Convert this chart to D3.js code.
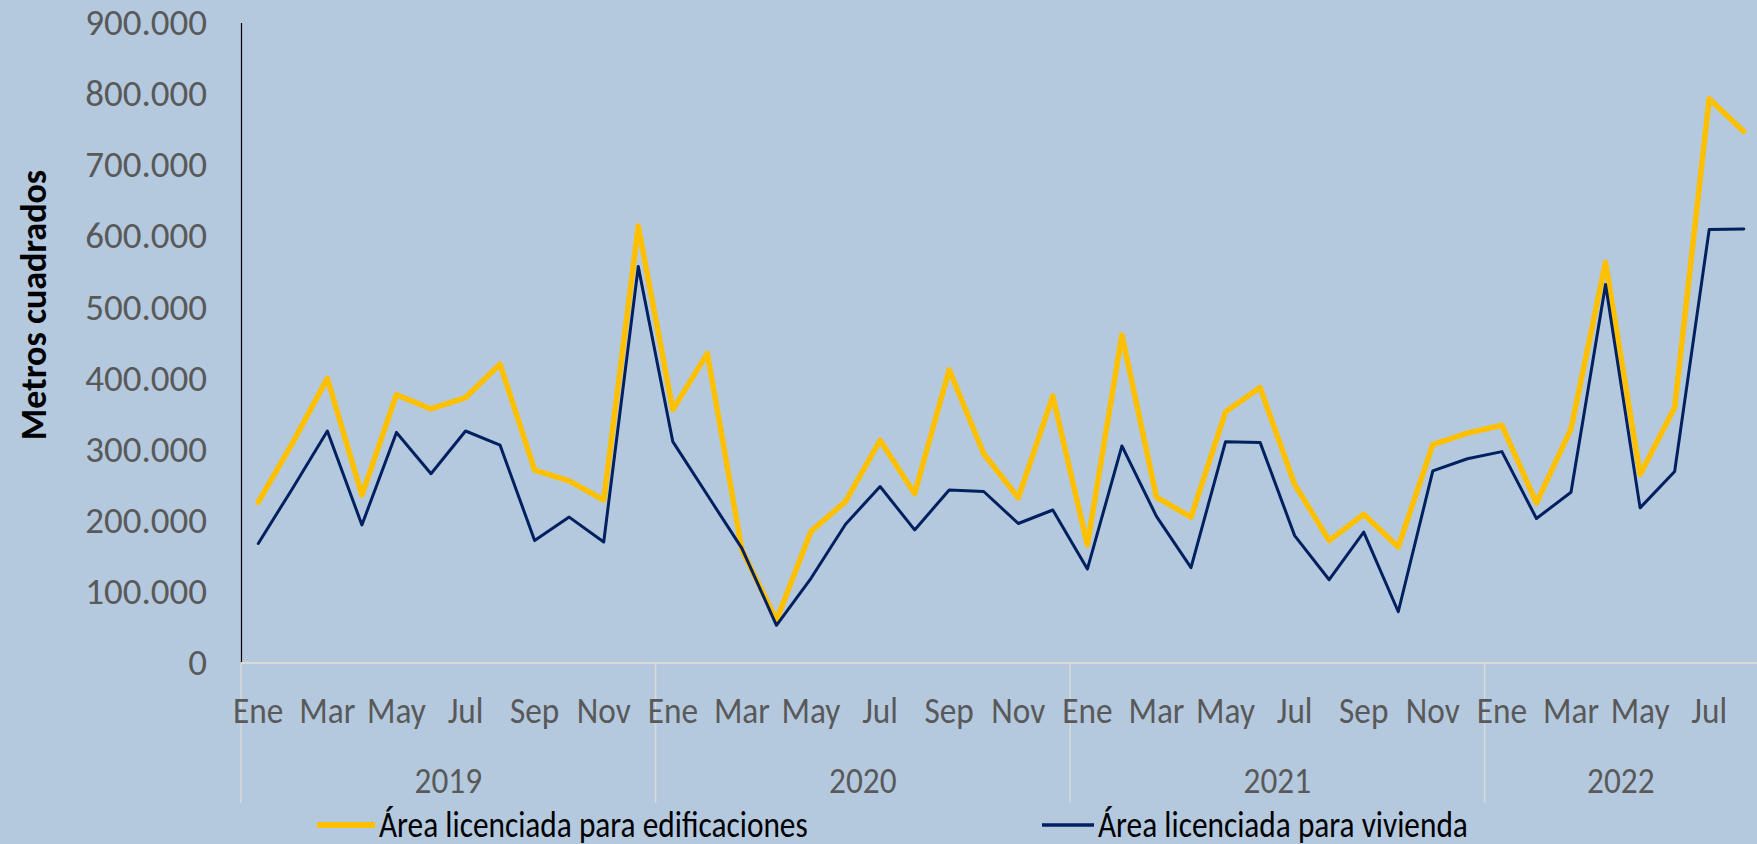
<!DOCTYPE html>
<html>
<head>
<meta charset="utf-8">
<script src="https://cdn.jsdelivr.net/npm/d3@7"></script>
<style>
  html, body { margin: 0; padding: 0; background: #b4c9de; }
  svg { display: block; }
</style>
</head>
<body>
<div id="container"></div>
<script>
var years = ['2019', '2020', '2021', '2022'];
var monthNames = ['Ene', 'Feb', 'Mar', 'Abr', 'May', 'Jun', 'Jul', 'Ago', 'Sep', 'Oct', 'Nov', 'Dic'];
var shownMonths = ['Ene', 'Mar', 'May', 'Jul', 'Sep', 'Nov'];
var monthsIn2022 = 8;

// metros cuadrados por mes, ene 2019 - ago 2022
var areaEdificaciones = [
    226000, 310000, 400000, 236000, 377000, 357000, 373000, 420000, 271000, 256000, 229000, 614000,
    356000, 435000, 159000, 60000, 185000, 227000, 313000, 238000, 412000, 294000, 232000, 375000,
    166000, 461000, 233000, 205000, 353000, 387000, 251000, 172000, 209000, 163000, 307000, 323000,
    334000, 225000, 329000, 563000, 265000, 359000, 793000, 747000
];
var areaVivienda = [
    168000, 246000, 326000, 194000, 324000, 266000, 326000, 306000, 172000, 205000, 170000, 557000,
    311000, 236000, 161000, 53000, 119000, 195000, 248000, 187000, 243000, 241000, 196000, 215000,
    132000, 305000, 206000, 134000, 311000, 310000, 179000, 117000, 184000, 72000, 270000, 287000,
    297000, 203000, 240000, 532000, 218000, 269000, 609000, 610000
];
var yTicks = [0, 100000, 200000, 300000, 400000, 500000, 600000, 700000, 800000, 900000];

var seriesInfo = [
    { name: 'Área licenciada para edificaciones', values: areaEdificaciones, color: '#ffc000', width: 5.5 },
    { name: 'Área licenciada para vivienda', values: areaVivienda, color: '#002060', width: 3 }
];

var svgWidth = 1757;
var svgHeight = 844;
var plotLeft = 241;
var plotRight = 1761;
var plotTop = 22.5;
var plotBottom = 663;
var squeeze = 0.9;
var labelFont = 'Calibri, Carlito, Liberation Sans, Arial, sans-serif';

var periods = [];
years.forEach(function (yr) {
    var n = yr == '2022' ? monthsIn2022 : 12;
    for (var m = 0; m < n; m++) {
        periods.push({ key: yr + '-' + m, year: yr, month: monthNames[m] });
    }
});

var x = d3.scaleBand().domain(periods.map(function (p) { return p.key; })).range([plotLeft, plotRight]);
var y = d3.scaleLinear().domain([0, 900000]).range([plotBottom, plotTop]);

var svg = d3.select('#container').append('svg')
    .attr('width', svgWidth)
    .attr('height', svgHeight);

svg.append('rect')
    .attr('width', svgWidth)
    .attr('height', svgHeight)
    .attr('fill', '#b4c9de');

// eje y
var yAxis = d3.axisLeft(y)
    .tickValues(yTicks)
    .tickSize(0)
    .tickPadding(34)
    .tickFormat(function (d) { return d == 0 ? '0' : d3.format(',')(d).replace(/,/g, '.'); });

var yG = svg.append('g')
    .attr('transform', 'translate(' + plotLeft + ',0)')
    .call(yAxis);
yG.select('.domain').attr('stroke', '#000').attr('stroke-width', 1.2);
yG.selectAll('text')
    .attr('fill', '#595959')
    .attr('font-family', labelFont)
    .attr('font-size', 37);

svg.append('text')
    .attr('transform', 'translate(34,305) rotate(-90)')
    .attr('text-anchor', 'middle')
    .attr('dominant-baseline', 'central')
    .attr('font-family', labelFont)
    .attr('font-weight', 'bold')
    .attr('font-size', 36)
    .attr('fill', '#000')
    .text('Metros cuadrados');

// linea base y separadores de año
svg.append('line')
    .attr('x1', plotLeft).attr('x2', svgWidth)
    .attr('y1', y(0)).attr('y2', y(0))
    .attr('stroke', '#d9d9d9')
    .attr('stroke-width', 2);

var yearGroups = years.map(function (yr) {
    return periods.filter(function (p) { return p.year == yr; });
});

svg.selectAll('.sep')
    .data(yearGroups)
    .enter().append('line')
    .attr('class', 'sep')
    .attr('x1', function (d) { return x(d[0].key); })
    .attr('x2', function (d) { return x(d[0].key); })
    .attr('y1', y(0))
    .attr('y2', 803)
    .attr('stroke', '#d9d9d9')
    .attr('stroke-width', 1.5);

// etiquetas de mes (texto algo comprimido)
svg.selectAll('.month')
    .data(periods.filter(function (p) { return shownMonths.indexOf(p.month) >= 0; }))
    .enter().append('text')
    .attr('class', 'month')
    .attr('transform', function (d) {
        return 'translate(' + (x(d.key) + x.bandwidth() / 2) + ',710) scale(' + squeeze + ',1)';
    })
    .attr('text-anchor', 'middle')
    .attr('dominant-baseline', 'central')
    .attr('font-family', labelFont)
    .attr('font-size', 37)
    .attr('fill', '#595959')
    .text(function (d) { return d.month; });

svg.selectAll('.year')
    .data(yearGroups)
    .enter().append('text')
    .attr('class', 'year')
    .attr('transform', function (d) {
        var last = d[d.length - 1];
        var cx = (x(d[0].key) + Math.min(x(last.key) + x.bandwidth(), svgWidth)) / 2;
        return 'translate(' + cx + ',780) scale(' + squeeze + ',1)';
    })
    .attr('text-anchor', 'middle')
    .attr('dominant-baseline', 'central')
    .attr('font-family', labelFont)
    .attr('font-size', 37)
    .attr('fill', '#595959')
    .text(function (d) { return d[0].year; });

// series
var line = d3.line()
    .x(function (d, i) { return x(periods[i].key) + x.bandwidth() / 2; })
    .y(function (d) { return y(d); });

svg.selectAll('.serie')
    .data(seriesInfo)
    .enter().append('path')
    .attr('class', 'serie')
    .attr('d', function (d) { return line(d.values); })
    .attr('fill', 'none')
    .attr('stroke', function (d) { return d.color; })
    .attr('stroke-width', function (d) { return d.width; })
    .attr('stroke-linejoin', 'round')
    .attr('stroke-linecap', 'round');

// leyenda
var legendX = [317, 1042];
var legend = svg.selectAll('.legend')
    .data(seriesInfo)
    .enter().append('g')
    .attr('class', 'legend')
    .attr('transform', function (d, i) { return 'translate(' + legendX[i] + ',825)'; });

legend.append('line')
    .attr('x1', 0).attr('x2', function (d, i) { return i == 0 ? 58 : 52; })
    .attr('y1', 0).attr('y2', 0)
    .attr('stroke', function (d) { return d.color; })
    .attr('stroke-width', function (d) { return d.width + 0.5; });

legend.append('text')
    .attr('transform', function (d, i) { return 'translate(' + (i == 0 ? 62 : 56) + ',0) scale(0.87,1)'; })
    .attr('dominant-baseline', 'central')
    .attr('font-family', labelFont)
    .attr('font-size', 36)
    .attr('fill', '#000')
    .text(function (d) { return d.name; });
</script>
</body>
</html>
